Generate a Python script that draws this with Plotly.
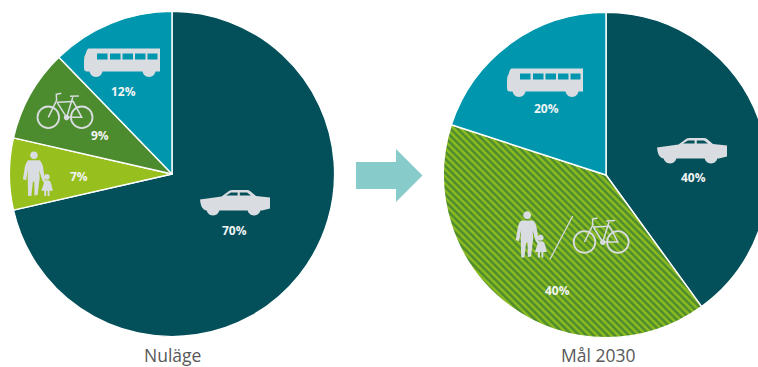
import re
import plotly.graph_objects as go

# Modal split today and the 2030 target
now_modes = ["Bil", "Gång", "Cykel", "Buss"]
now_shares = [70, 7, 9, 12]
goal_modes = ["Bil", "Gång / cykel", "Buss"]
goal_shares = [40, 40, 20]
now_title = "Nuläge"
goal_title = "Mål 2030"

W, H = 770, 367
CAR = "#04505a"
BUS = "#0097ae"
BIKE = "#4c8c2e"
WALK = "#97bf1d"
STRIPE_LIGHT = "#8dbb1f"
STRIPE_DARK = "#4c8c2e"
ICON = "#d9dce0"
LABEL = "#f2f4f4"
ARROW = "#87cbcb"
CAPTION = "#595959"


def dom(cx, cy, r):
    return dict(x=[(cx - r) / W, (cx + r) / W], y=[1 - (cy + r) / H, 1 - (cy - r) / H])


def place(path, ox, oy, s=1.0):
    """Move a path given in local pixels to paper coordinates."""
    res, is_x = [], True
    for tok in re.findall(r"[MLQCZ]|-?\d+\.?\d*", path):
        if tok in "MLQCZ":
            res.append(tok)
            is_x = True
        elif is_x:
            res.append(f"{(ox + float(tok) * s) / W:.5f}")
            is_x = False
        else:
            res.append(f"{1 - (oy + float(tok) * s) / H:.5f}")
            is_x = True
    return " ".join(res)


def disc(cx, cy, r):
    k = 0.5523 * r
    return (f"M {cx-r} {cy} C {cx-r} {cy-k} {cx-k} {cy-r} {cx} {cy-r} "
            f"C {cx+k} {cy-r} {cx+r} {cy-k} {cx+r} {cy} "
            f"C {cx+r} {cy+k} {cx+k} {cy+r} {cx} {cy+r} "
            f"C {cx-k} {cy+r} {cx-r} {cy+k} {cx-r} {cy} Z")


def fill(path, ox, oy, s=1.0):
    return dict(type="path", xref="paper", yref="paper", path=place(path, ox, oy, s),
                fillcolor=ICON, fillrule="evenodd", line=dict(width=0), layer="above")


def stroke(path, ox, oy, width, s=1.0):
    return dict(type="path", xref="paper", yref="paper", path=place(path, ox, oy, s),
                line=dict(color=ICON, width=width), layer="above")


CAR_BODY = ("M 0 9.5 L 21.5 6.5 L 29 1 Q 30 0 33 0 L 47 0 Q 49 0 50 1 L 56 6 L 70 7.5 L 70 18.5 "
            "L 62 20.5 L 6 20.5 Q 1.5 19 0.5 13 Z "
            "M 26 5.6 L 31 2.4 L 37.6 2.4 L 37.6 5.6 Z "
            "M 39.8 2.4 L 47 2.4 L 51 5.6 L 39.8 5.6 Z")
BUS_BODY = ("M 5 0.5 L 76 0.5 L 76 23.5 L 3 23.5 Q 0 23.5 0 20 L 0 13 Q 0 8 2 5 Q 3 0.5 5 0.5 Z "
            "M 13 5.5 L 23.5 5.5 L 23.5 11.5 L 13 11.5 Z "
            "M 26 5.5 L 36.5 5.5 L 36.5 11.5 L 26 11.5 Z "
            "M 38.5 5.5 L 49 5.5 L 49 11.5 L 38.5 11.5 Z "
            "M 51 5.5 L 61.5 5.5 L 61.5 11.5 L 51 11.5 Z "
            "M 63.5 5.5 L 73.5 5.5 L 73.5 11.5 L 63.5 11.5 Z")
ADULT = ("M 13.5 16.5 L 24.5 16.5 Q 26.5 18 27.5 22 L 29.5 35 L 27 36 L 24 26 L 24.5 33 L 22.5 49.5 L 19.5 50 "
         "L 19.3 37 L 18 37 L 16.5 50.5 L 13.5 50.5 L 13 33 L 13.5 25 L 11.5 35.5 L 8.5 34.5 L 10.5 22 Q 11.5 18 13.5 16.5 Z")
CHILD = ("M 29.5 35.5 L 33 35.5 Q 35 36 35.5 39 L 37 45.5 L 33.8 45.5 L 33.8 50.5 L 32 50.5 L 32 45.5 "
         "L 30.8 45.5 L 30.5 50.5 L 28.8 50.5 L 28.8 45.5 L 26 45.5 L 28.5 38 L 27 35 L 28 34.5 Z")


def car_icon(ox, oy):
    out = [fill(CAR_BODY, ox, oy)]
    out += [fill(disc(13, 19, 6.5), ox, oy), fill(disc(54, 19, 6.5), ox, oy)]
    return out


def bus_icon(ox, oy):
    out = [fill(BUS_BODY, ox, oy)]
    out += [fill(disc(12, 22.5, 6.5), ox, oy), fill(disc(65, 22.5, 6.5), ox, oy)]
    return out


def bike_icon(ox, oy):
    frame = ("M 13 -24 L 8 -23 L 8.3 -17 L 0 0 M 8.8 -15 L 25 -15.7 L 33.4 0 L 18.3 0 L 8.8 -15 "
             "M 18.3 0 L 24.5 -20 M 21.7 -21 L 30.5 -21.4")
    out = [stroke(frame, ox, oy, 1.5)]
    for cx in (0, 33.4):
        out.append(stroke(disc(cx, 0, 10.8), ox, oy, 1.8))
    out.append(fill(disc(18.3, 0.3, 2.8), ox, oy))
    return out


def people_icon(ox, oy, s=1.0):
    return [fill(ADULT, ox, oy, s), fill(disc(19, 11.7, 3.6), ox, oy, s),
            fill(CHILD, ox, oy, s), fill(disc(31.3, 32.3, 2.7), ox, oy, s)]


fig = go.Figure()
fig.add_trace(go.Pie(
    labels=now_modes, values=now_shares, sort=False, direction="clockwise", rotation=0,
    domain=dom(172, 174, 162.6), textinfo="none", hoverinfo="skip", showlegend=False,
    marker=dict(colors=[CAR, WALK, BIKE, BUS], line=dict(color="white", width=1.4)),
))
fig.add_trace(go.Pie(
    labels=goal_modes, values=goal_shares, sort=False, direction="clockwise", rotation=0,
    domain=dom(606, 175, 162.6), textinfo="none", hoverinfo="skip", showlegend=False,
    marker=dict(
        colors=[CAR, STRIPE_DARK, BUS], line=dict(color="white", width=1.4),
        pattern=dict(shape=["", "\\", ""], bgcolor=[CAR, STRIPE_DARK, BUS],
                     fgcolor=[CAR, STRIPE_LIGHT, BUS], size=5, solidity=0.5),
    ),
))

shapes = []
shapes += car_icon(200, 190) + car_icon(657, 138)
shapes += bus_icon(84, 48) + bus_icon(507, 68)
shapes += bike_icon(48.3, 117.3) + bike_icon(584.5, 242)
shapes += people_icon(14, 143, 1.05) + people_icon(506.5, 202.5, 1.09)
# Divider between the walking and cycling icons
shapes.append(stroke("M 572.7 216 L 550 259.3", 0, 0, 1.2))
# Arrow from today to the target
shapes.append(dict(type="path", xref="paper", yref="paper", line=dict(width=0), fillcolor=ARROW,
                   path=place("M 356 162 L 396 162 L 396 149 L 422.5 175.5 L 396 202 L 396 189 L 356 189 Z", 0, 0)))


def note(text, x, y, size, color, bold=False):
    return dict(text=f"<b>{text}</b>" if bold else text, x=x / W, y=1 - y / H, xref="paper", yref="paper",
                showarrow=False, xanchor="center", yanchor="middle",
                font=dict(family="Open Sans", size=size, color=color))


notes = [
    note(f"{now_shares[0]}%", 234, 230, 12, LABEL, True),
    note(f"{now_shares[1]}%", 79, 176.5, 12, LABEL, True),
    note(f"{now_shares[2]}%", 100, 135, 12, LABEL, True),
    note(f"{now_shares[3]}%", 123.5, 91, 12, LABEL, True),
    note(f"{goal_shares[0]}%", 693, 177, 12, LABEL, True),
    note(f"{goal_shares[1]}%", 557.5, 290, 12, LABEL, True),
    note(f"{goal_shares[2]}%", 546, 108, 12, LABEL, True),
    note(now_title, 172, 354.5, 17.5, CAPTION),
    note(goal_title, 597.5, 354.5, 17.5, CAPTION),
]

fig.update_layout(width=W, height=H, autosize=False, margin=dict(l=0, r=0, t=0, b=0, pad=0),
                  paper_bgcolor="white", shapes=shapes, annotations=notes)

fig.write_html("out.html", config=dict(displayModeBar=False),
               post_script="document.body.style.margin='0';document.body.style.overflow='hidden';")
